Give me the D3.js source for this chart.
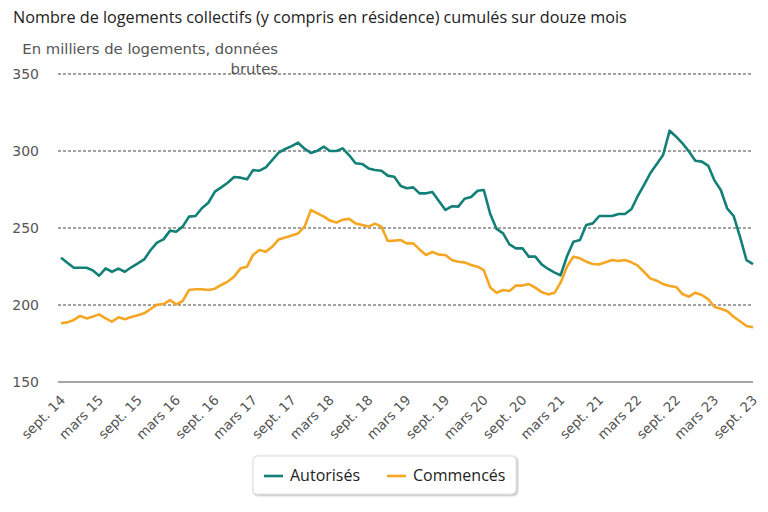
<!DOCTYPE html>
<html><head><meta charset="utf-8">
<script src="https://cdn.jsdelivr.net/npm/d3@7"></script>
<style>
body{margin:0;background:#fff;}
svg text{font-family:"Open Sans","Noto Sans",sans-serif;}
svg text.dv{font-family:"DejaVu Sans",sans-serif;}
</style></head>
<body><svg id="c" width="768" height="512"></svg>
<script>
const months = d3.timeMonth.range(new Date(2014, 8, 1), new Date(2023, 9, 1));
const autorises = [
230.7,227.5,224.2,224.2,224.2,222.3,219.0,223.8,221.6,223.6,221.6,224.5,227.0,229.6,235.7,240.5,242.6,248.3,247.6,250.9,
257.4,257.8,262.8,266.4,273.6,276.4,279.4,283.1,282.7,281.6,287.6,287.2,289.4,294.2,298.9,301.3,303.2,305.4,301.5,298.7,
300.2,302.8,300.0,300.0,301.7,297.2,292.0,291.6,288.7,287.7,287.2,284.0,283.3,277.3,275.8,276.4,272.5,272.5,273.4,267.5,
261.7,264.1,263.9,269.0,270.1,274.2,274.7,259.1,249.4,246.5,239.4,236.8,236.8,231.4,231.4,226.4,223.4,221.0,219.3,231.8,
241.1,242.2,251.9,253.0,257.8,257.8,257.8,259.1,259.1,262.3,270.3,277.9,285.5,291.6,297.4,313.2,309.3,305.0,299.6,293.7,
293.1,290.3,281.1,274.7,262.8,257.8,244.4,229.2,226.6];
const commences = [
188.1,188.7,190.3,192.9,191.3,192.6,193.9,191.3,189.2,192.0,190.7,192.2,193.3,194.6,197.4,200.2,200.6,203.2,200.4,202.6,
209.7,210.2,210.2,209.7,210.6,213.0,215.2,218.4,223.8,224.9,232.5,235.7,234.6,237.9,242.6,243.9,245.2,246.5,250.9,261.7,
259.5,257.4,254.8,253.5,255.4,255.9,253.0,252.0,250.9,252.8,250.9,241.6,241.8,242.2,240.0,240.0,236.1,232.5,234.4,232.7,
232.5,229.2,228.1,227.7,226.0,224.9,222.7,211.3,208.0,209.7,209.1,212.6,212.6,213.6,211.3,208.4,206.9,208.0,214.5,225.0,
231.4,230.3,228.1,226.6,226.4,227.7,229.2,228.6,229.2,227.7,225.7,221.6,217.3,215.8,213.6,212.3,211.7,207.1,205.4,208.0,
206.5,203.7,198.9,197.6,196.1,192.4,189.4,186.4,185.5];
const tickLabels = ["sept. 14","mars 15","sept. 15","mars 16","sept. 16","mars 17","sept. 17","mars 18","sept. 18","mars 19",
"sept. 19","mars 20","sept. 20","mars 21","sept. 21","mars 22","sept. 22","mars 23","sept. 23"];
const yTicks = [150, 200, 250, 300, 350];
const seriesNames = ["Autorisés", "Commencés"];
const colors = ["#138078", "#f5a623"];

const svg = d3.select("#c");
const x = d3.scaleTime().domain([months[0], months[months.length-1]]).range([61, 753]);
const y = d3.scaleLinear().domain([150, 350]).range([382, 74]);

svg.append("text").attr("x", 13).attr("y", 23).attr("font-size", 16.2).attr("fill", "#222")
  .text("Nombre de logements collectifs (y compris en résidence) cumulés sur douze mois");
svg.append("text").attr("class", "dv").attr("x", 278).attr("y", 54).attr("text-anchor", "end").attr("font-size", 14.8).attr("fill", "#555")
  .text("En milliers de logements, données");

// grid
svg.append("g").selectAll("line").data(yTicks.filter(d => d > 150)).join("line")
  .attr("x1", 58).attr("x2", 753).attr("y1", d => y(d)).attr("y2", d => y(d))
  .attr("stroke", "#444").attr("stroke-width", 1).attr("stroke-dasharray", "3,2");
svg.append("line").attr("x1", 58).attr("x2", 753).attr("y1", y(150)).attr("y2", y(150))
  .attr("stroke", "#888").attr("stroke-width", 1.5);
svg.append("text").attr("class", "dv").attr("x", 278).attr("y", 74).attr("text-anchor", "end").attr("font-size", 14.8).attr("fill", "#555")
  .text("brutes");

// y labels
svg.append("g").selectAll("text").data(yTicks).join("text").attr("class", "dv")
  .attr("x", 39).attr("y", d => y(d) + 5).attr("text-anchor", "end")
  .attr("font-size", 14).attr("fill", "#555").text(d => d);

// x tick labels
const tickDates = tickLabels.map((l, i) => months[i * 6]);
svg.append("g").selectAll("text").data(tickDates).join("text").attr("class", "dv")
  .attr("transform", d => `translate(${x(d) + 5},${401}) rotate(-45)`)
  .attr("text-anchor", "end").attr("font-size", 13.5).attr("fill", "#555")
  .text((d, i) => tickLabels[i]);

// lines
const line = d3.line().x((d, i) => x(months[i])).y(d => y(d));
[autorises, commences].forEach((s, k) => {
  svg.append("path").datum(s).attr("d", line).attr("fill", "none")
    .attr("stroke", colors[k]).attr("stroke-width", 2.6).attr("stroke-linejoin", "round");
});

// legend
const defs = svg.append("defs");
const f = defs.append("filter").attr("id", "sh").attr("x", "-10%").attr("y", "-20%").attr("width", "120%").attr("height", "150%");
f.append("feDropShadow").attr("dx", 1).attr("dy", 1).attr("stdDeviation", 1.2).attr("flood-color", "#000").attr("flood-opacity", 0.35);
svg.append("rect").attr("x", 253).attr("y", 456).attr("width", 263).attr("height", 38).attr("rx", 4)
  .attr("fill", "#fff").attr("stroke", "#ddd").attr("filter", "url(#sh)");
const lx = [264, 387];
seriesNames.forEach((n, k) => {
  svg.append("line").attr("x1", lx[k]).attr("x2", lx[k] + 19).attr("y1", 476).attr("y2", 476)
    .attr("stroke", colors[k]).attr("stroke-width", 2.6);
  svg.append("text").attr("x", lx[k] + 26).attr("y", 481).attr("font-size", 16).attr("fill", "#222").text(n);
});
</script></body></html>
